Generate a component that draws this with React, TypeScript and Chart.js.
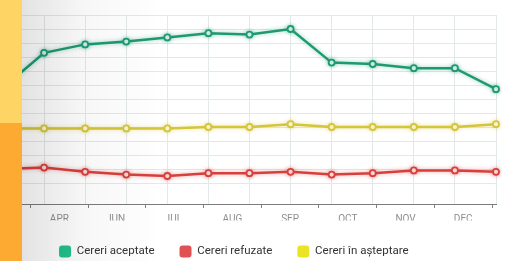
import React, { useEffect, useRef } from 'react';
import { Chart, registerables } from 'chart.js';

Chart.register(...registerables);

// 13 data periods (hidden point axis); the visible month axis sits below
const pointLabels = ['S1', 'S2', 'S3', 'S4', 'S5', 'S6', 'S7', 'S8', 'S9', 'S10', 'S11', 'S12', 'S13'];
const monthLabels = ['APR', 'IUN', 'IUL', 'AUG', 'SEP', 'OCT', 'NOV', 'DEC'];

const seriesNames = ['Cereri aceptate', 'Cereri refuzate', 'Cereri în așteptare'];
const acceptate = [78, 103, 109, 111, 114, 117, 116, 120, 96, 95, 92, 92, 77];
const refuzate = [20, 21, 18, 16, 15, 17, 17, 18, 16, 17, 19, 19, 18];
const asteptare = [49, 49, 49, 49, 49, 50, 50, 52, 50, 50, 50, 50, 52];

const lineColors = ['#1e9a73', '#d8403d', '#d4c63a'];
const glowColors = ['rgba(30,154,115,0.45)', 'rgba(216,64,61,0.45)', 'rgba(212,198,58,0.45)'];
const legendColors = ['#22c28c', '#e05252', '#ebe424'];

const GRID = '#e3e8e8';
const LEGEND_SHIFT = -15.7;

export default function App() {
  const ref = useRef<HTMLCanvasElement>(null);

  useEffect(() => {
    const canvas = ref.current;
    if (!canvas) return;

    const glow = {
      id: 'glow',
      beforeDatasetDraw(chart: any, args: any) {
        const c = chart.ctx;
        c.save();
        c.shadowColor = glowColors[args.index];
        c.shadowBlur = 4;
      },
      afterDatasetDraw(chart: any) {
        chart.ctx.restore();
      },
    };

    const legendShift = {
      id: 'legendShift',
      afterLayout(chart: any) {
        const lg = chart.legend;
        if (lg) {
          lg.left += LEGEND_SHIFT;
          lg.right += LEGEND_SHIFT;
        }
      },
    };

    const noPad = (scale: any) => {
      scale.paddingLeft = 0;
      scale.paddingRight = 0;
    };

    const seriesValues = [acceptate, refuzate, asteptare];

    const chart: any = new Chart(canvas, {
      type: 'line',
      data: {
        labels: pointLabels,
        datasets: seriesValues.map((vals, i) => ({
          label: seriesNames[i],
          data: vals,
          borderColor: lineColors[i],
          backgroundColor: legendColors[i],
          borderWidth: 2.5,
          pointRadius: 3,
          pointBorderWidth: 1.8,
          pointBackgroundColor: '#ffffff',
          pointBorderColor: lineColors[i],
          tension: 0,
          xAxisID: 'x',
        })),
      },
      options: {
        animation: false,
        responsive: false,
        layout: { autoPadding: false, padding: { left: 3, right: 35, top: 15, bottom: -6.5 } },
        plugins: {
          tooltip: { enabled: false },
          legend: {
            position: 'bottom',
            align: 'center',
            labels: {
              boxWidth: 12,
              boxHeight: 12,
              padding: 25,
              useBorderRadius: true,
              borderRadius: 3,
              color: '#333333',
              font: { family: 'Roboto', size: 11.5 },
              generateLabels: (ch: any) =>
                ch.data.datasets.map((ds: any, i: number) => ({
                  text: ds.label,
                  fillStyle: legendColors[i],
                  strokeStyle: legendColors[i],
                  lineWidth: 0,
                  hidden: false,
                  datasetIndex: i,
                  borderRadius: 3,
                  fontColor: '#333333',
                })),
            },
          },
        },
        scales: {
          x: {
            type: 'category',
            offset: false,
            weight: 0,
            afterFit: noPad,
            grid: { color: GRID, drawTicks: false },
            border: { display: false },
            ticks: { display: false },
          },
          xm: {
            type: 'linear',
            position: 'bottom',
            weight: 1,
            min: -0.4766,
            max: 8.0676,
            afterFit: (scale: any) => {
              scale.height = 16.5;
              noPad(scale);
            },
            grid: {
              drawOnChartArea: false,
              drawTicks: true,
              tickLength: 4,
              tickColor: (ctx: any) =>
                ctx.tick && Math.abs(ctx.tick.value % 1) > 0.01 ? 'rgba(0,0,0,0)' : '#808080',
            },
            border: { display: true, color: '#7c7c7c', width: 1 },
            afterBuildTicks: (scale: any) => {
              const t: { value: number }[] = [];
              for (let i = 0; i <= monthLabels.length; i++) {
                t.push({ value: i });
                if (i < monthLabels.length) t.push({ value: i + 0.5 });
              }
              scale.ticks = t;
            },
            ticks: {
              autoSkip: false,
              maxRotation: 0,
              padding: 5,
              color: '#8e8e8e',
              font: { family: 'Roboto', size: 10 },
              callback: (value: any) => {
                const v = Number(value);
                if (Math.abs((v % 1) - 0.5) < 0.01) return monthLabels[Math.floor(v)];
                return '';
              },
            },
          },
          y: {
            min: -5,
            max: 130,
            afterFit: (scale: any) => {
              scale.width = 0;
            },
            grid: { color: GRID, drawTicks: false },
            border: { display: false },
            ticks: { display: false, stepSize: 10 },
          },
        },
      } as any,
      plugins: [glow, legendShift],
    });

    return () => chart.destroy();
  }, []);

  return (
    <div
      style={{
        position: 'fixed',
        left: 0,
        top: 0,
        width: 531,
        height: 261,
        background: '#ffffff',
        overflow: 'hidden',
      }}
    >
      <canvas
        ref={ref}
        width={531}
        height={261}
        style={{ position: 'absolute', left: 0, top: 0, width: 531, height: 261 }}
      />
      <div
        style={{
          position: 'absolute',
          left: 22,
          top: 0,
          width: 140,
          height: 261,
          background: 'linear-gradient(to right, rgba(0,0,0,0.11), rgba(0,0,0,0.03) 45%, rgba(0,0,0,0))',
          pointerEvents: 'none',
        }}
      />
      <div style={{ position: 'absolute', left: 0, top: 0, width: 22, height: 123, background: '#fed564' }} />
      <div style={{ position: 'absolute', left: 0, top: 123, width: 22, height: 138, background: '#fdaa32' }} />
    </div>
  );
}
